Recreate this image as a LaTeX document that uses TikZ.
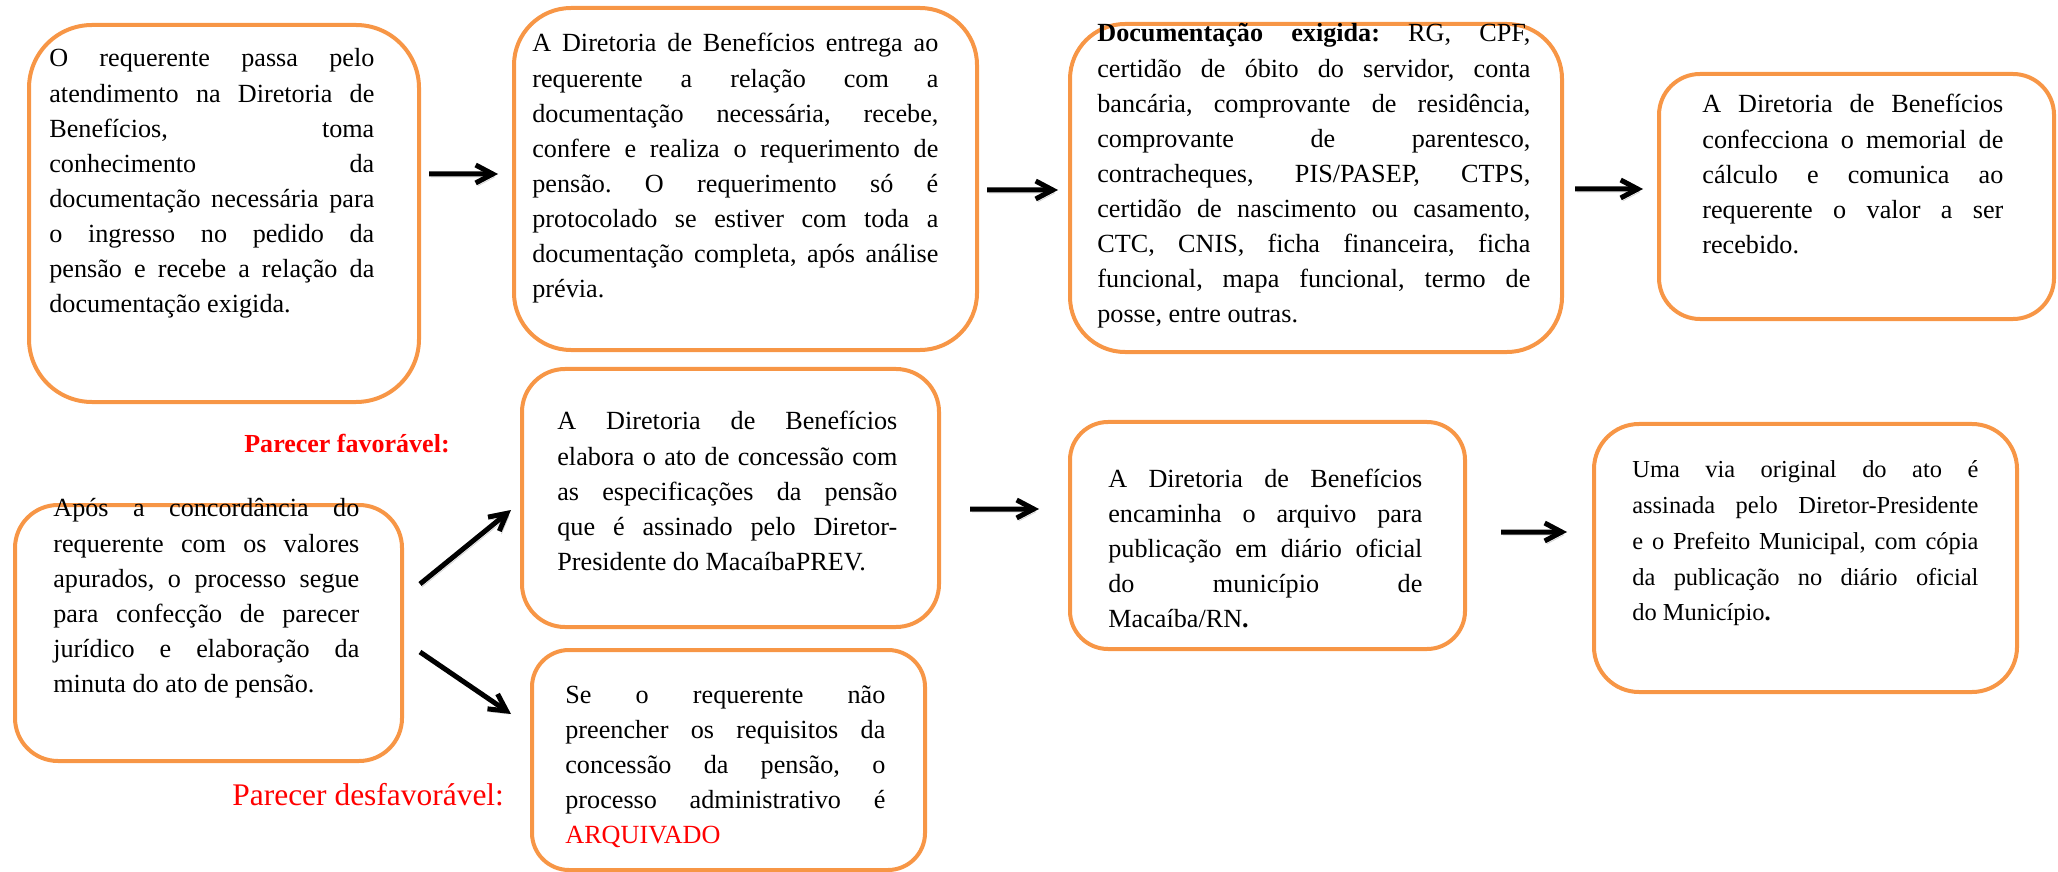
\documentclass[tikz,border=0pt]{standalone}
\usepackage{fontspec}
\setmainfont{Liberation Serif}
\usetikzlibrary{calc, arrows.meta}

\definecolor{stageorange}{HTML}{F79646}

\frenchspacing
\tolerance=10000
\hbadness=10000
\hyphenpenalty=10000

\begin{document}
\begin{tikzpicture}[
        x=0.2mm,
        y=-0.2mm,
        stage/.style={
            draw=stageorange,
            line width=0.8mm,
            rounded corners=#1,
            anchor=north west,
            inner sep=0pt
        },
        stage/.default=9mm,
        stagetext/.style={
            anchor=base west,
            inner sep=0pt,
            align=justify,
            font=\fontsize{14.9}{19.92}\selectfont
        },
        verdict/.style={
            anchor=base west,
            inner sep=0pt,
            text=red
        },
        arrow/.style={
            -{Straight Barb[length=3.4mm, width=3.6mm]},
            line width=1mm,
            preaction={draw=black!18, transform canvas={shift={(0.4mm,-0.6mm)}}}
        }
        ]

        \useasboundingbox (0,0) rectangle (2058,872);

        % First row of stages
        \node[stage=12.6mm, minimum width=78mm, minimum height=75.4mm] (b1) at (27,23) {};
        \node[stage=11.4mm, minimum width=92.6mm, minimum height=68.4mm] (b2) at (512,6) {};
        \node[stage=11mm, minimum width=98.4mm, minimum height=65.6mm] (b3) at (1068,22) {};
        \node[stage=8.2mm, minimum width=79mm, minimum height=49mm] (b4) at (1657,72) {};

        % Second row of stages
        \node[stage=8.6mm, minimum width=77.4mm, minimum height=51.2mm] (b5) at (13,503) {};
        \node[stage=8.6mm, minimum width=83.4mm, minimum height=51.6mm] (b6) at (520,367) {};
        \node[stage=7.4mm, minimum width=78.6mm, minimum height=44mm] (b7) at (530,648) {};
        \node[stage=7.6mm, minimum width=79mm, minimum height=45.4mm] (b8) at (1068,420) {};
        \node[stage=9mm, minimum width=84.6mm, minimum height=53.6mm] (b9) at (1592,422) {};

        % Texts
        \node[stagetext, text width=65mm] (t1) at (49,67) {O requerente passa pelo\linebreak
            atendimento na Diretoria de\linebreak
            Benefícios, toma\linebreak
            conhecimento da\linebreak
            documentação necessária para\linebreak
            o ingresso no pedido da\linebreak
            pensão e recebe a relação da\linebreak
            documentação exigida.};
        \node[stagetext, text width=81.2mm] (t2) at (532,52) {A Diretoria de Benefícios entrega ao\linebreak
            requerente a relação com a\linebreak
            documentação necessária, recebe,\linebreak
            confere e realiza o requerimento de\linebreak
            pensão. O requerimento só é\linebreak
            protocolado se estiver com toda a\linebreak
            documentação completa, após análise\linebreak
            prévia.};
        \node[stagetext, text width=86.6mm] (t3) at (1097,42) {\textbf{Documentação exigida:} RG, CPF,\linebreak
            certidão de óbito do servidor, conta\linebreak
            bancária, comprovante de residência,\linebreak
            comprovante de parentesco,\linebreak
            contracheques, PIS/PASEP, CTPS,\linebreak
            certidão de nascimento ou casamento,\linebreak
            CTC, CNIS, ficha financeira, ficha\linebreak
            funcional, mapa funcional, termo de\linebreak
            posse, entre outras.};
        \node[stagetext, text width=60.2mm] (t4) at (1702,113) {A Diretoria de Benefícios\linebreak
            confecciona o memorial de\linebreak
            cálculo e comunica ao\linebreak
            requerente o valor a ser\linebreak
            recebido.};
        \node[stagetext, text width=61.2mm] (t5) at (53,517) {Após a concordância do\linebreak
            requerente com os valores\linebreak
            apurados, o processo segue\linebreak
            para confecção de parecer\linebreak
            jurídico e elaboração da\linebreak
            minuta do ato de pensão.};
        \node[stagetext, text width=68mm] (t6) at (557,430) {A Diretoria de Benefícios\linebreak
            elabora o ato de concessão com\linebreak
            as especificações da pensão\linebreak
            que é assinado pelo Diretor-\linebreak
            Presidente do MacaíbaPREV.};
        \node[stagetext, text width=64mm] (t7) at (565,703) {Se o requerente não\linebreak
            preencher os requisitos da\linebreak
            concessão da pensão, o\linebreak
            processo administrativo é\linebreak
            \textcolor{red}{ARQUIVADO}};
        \node[stagetext, text width=62.8mm] (t8) at (1108,487) {A Diretoria de Benefícios\linebreak
            encaminha o arquivo para\linebreak
            publicação em diário oficial\linebreak
            do município de\linebreak
            Macaíba/RN\textbf{.}};
        \node[stagetext, text width=69.2mm, font=\fontsize{13.9}{20.3}\selectfont] (t9) at (1632,478) {Uma via original do ato é\linebreak
            assinada pelo Diretor-Presidente\linebreak
            e o Prefeito Municipal, com cópia\linebreak
            da publicação no diário oficial\linebreak
            do Município\textbf{.}};

        % Verdict labels
        \node[verdict, font=\fontsize{14.8}{18}\selectfont\bfseries] (lfav) at (244,453) {Parecer favorável:};
        \node[verdict, font=\fontsize{17.9}{21}\selectfont] (ldesf) at (232,805) {Parecer desfavorável:};

        % Flow
        \draw[arrow] ($(b1.east)+(8,-39.5)$) -- ($(b2.west)+(-14,-5)$);
        \draw[arrow] ($(b2.east)+(8,11)$) -- ($(b3.west)+(-10,2)$);
        \draw[arrow] ($(b3.east)+(11,1)$) -- ($(b4.west)+(-14,-7.5)$);
        \draw[arrow] ($(b5.east)+(16,-49)$) -- ($(b6.west)+(-9,12)$);
        \draw[arrow] ($(b5.east)+(16,19)$) -- ($(b7.west)+(-19,-46)$);
        \draw[arrow] ($(b6.east)+(29,11)$) -- ($(b8.west)+(-29,-26.5)$);
        \draw[arrow] ($(b8.east)+(34,-3.5)$) -- ($(b9.west)+(-25,-26)$);

    \end{tikzpicture}
\end{document}
